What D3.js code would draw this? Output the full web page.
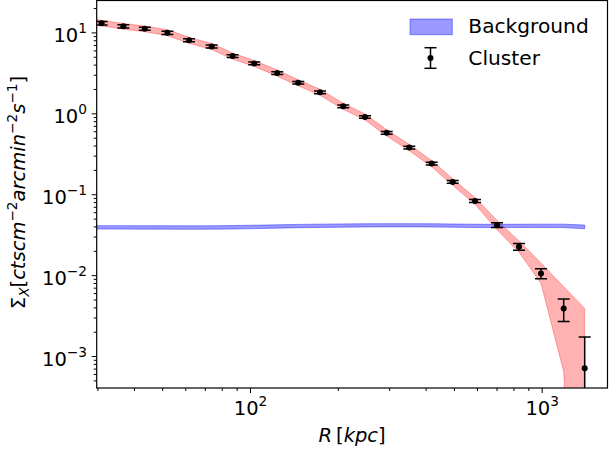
<!DOCTYPE html>
<html>
<head>
<meta charset="utf-8">
<script src="https://cdn.jsdelivr.net/npm/d3@7"></script>
<style>
  body { margin: 0; background: #fff; }
  text { font-family: "DejaVu Sans", sans-serif; fill: #000; }
</style>
</head>
<body>
<div id="chart"></div>
<script>
// cluster surface brightness profile
const radius = [31.0, 36.8, 43.6, 52.1, 61.8, 73.9, 87.2, 103.4, 124.0, 146.4, 173.8, 208.8,
                247.9, 294.2, 351.7, 419.7, 495.3, 590.6, 702.9, 836.0, 994.5, 1189.7, 1404];
const sx = [13.0, 11.9, 11.1, 9.9, 8.0, 6.7, 5.1, 4.14, 3.14, 2.39, 1.82, 1.22,
            0.90, 0.574, 0.377, 0.239, 0.142, 0.0827, 0.0417, 0.0225, 0.0105, 0.00388, 0.000705];
const sxErr = [0.65, 0.55, 0.5, 0.45, 0.35, 0.28, 0.2, 0.16, 0.12, 0.09, 0.07, 0.045,
               0.033, 0.021, 0.014, 0.009, 0.0055, 0.0035, 0.0028, 0.0022, 0.0015, 0.0012, 0.00102];

// model band (red) and background band (blue)
const bandR = [29.0, 31.0, 36.8, 43.6, 52.1, 61.8, 73.9, 87.2, 103.4, 124.0, 146.4, 173.8, 208.8,
               247.9, 294.2, 351.7, 419.7, 495.3, 590.6, 702.9, 836.0, 994.5, 1189.7, 1404];
const modelLo = [12.4, 12.0, 11.0, 10.2, 9.1, 7.35, 6.15, 4.68, 3.8, 2.88, 2.19, 1.67, 1.12,
                 0.825, 0.525, 0.344, 0.218, 0.129, 0.075, 0.0365, 0.0192, 0.0079, 0.00064, 0];
const modelHi = [14.5, 14.1, 12.9, 12.0, 10.8, 8.7, 7.3, 5.55, 4.5, 3.42, 2.6, 1.98, 1.33,
                 0.98, 0.628, 0.412, 0.261, 0.155, 0.091, 0.0475, 0.0265, 0.0141, 0.0072, 0.00388];
const bgVal = [0.0390, 0.0390, 0.0390, 0.0389, 0.0389, 0.0388, 0.0389, 0.0391, 0.0395, 0.0400, 0.0405,
               0.0408, 0.0411, 0.0413, 0.0414, 0.0414, 0.0413, 0.0410, 0.0407, 0.0406, 0.0407,
               0.0408, 0.0407, 0.0395];
const bgErr = [0.0019, 0.0019, 0.0019, 0.0019, 0.0019, 0.0019, 0.0019, 0.0019, 0.0019, 0.0019, 0.0019,
               0.0019, 0.0019, 0.0019, 0.0019, 0.0019, 0.0019, 0.0019, 0.0019, 0.0019, 0.0019,
               0.0019, 0.0020, 0.0021];

const xMajor = [100, 1000];
const yMajor = [0.001, 0.01, 0.1, 1, 10];
const xMinor = [30, 40, 50, 60, 70, 80, 90, 200, 300, 400, 500, 600, 700, 800, 900];
const yMinor = [5e-4, 6e-4, 7e-4, 8e-4, 9e-4, 2e-3, 3e-3, 4e-3, 5e-3, 6e-3, 7e-3, 8e-3, 9e-3,
                0.02, 0.03, 0.04, 0.05, 0.06, 0.07, 0.08, 0.09, 0.2, 0.3, 0.4, 0.5, 0.6, 0.7, 0.8, 0.9,
                2, 3, 4, 5, 6, 7, 8, 9, 20];

const margin = { top: 0.5, left: 96.7 };
const width = 510.8;
const height = 387.5;

const svg = d3.select("#chart").append("svg")
    .attr("width", 609)
    .attr("height", 455);

const g = svg.append("g")
    .attr("transform", "translate(" + margin.left + "," + margin.top + ")");

const x = d3.scaleLog().domain([29.82, 1681]).range([0, width]);
const y = d3.scaleLog().domain([4.03e-4, 24.8]).range([height, 0]);

g.append("clipPath").attr("id", "clip")
  .append("rect").attr("width", width).attr("height", height);

const plot = g.append("g").attr("clip-path", "url(#clip)");

const safe = v => Math.max(v, 1e-9);

// red model band
const red = bandR.map((r, i) => ({ r, lo: modelLo[i], hi: modelHi[i] }));
plot.append("path")
    .datum(red)
    .attr("d", d3.area().x(d => x(d.r)).y0(d => y(safe(d.lo))).y1(d => y(safe(d.hi))))
    .attr("fill", "#ff0000").attr("fill-opacity", 0.3)
    .attr("stroke", "#ff0000").attr("stroke-opacity", 0.3).attr("stroke-width", 1);

// blue background band
const blue = bandR.map((r, i) => ({ r, lo: bgVal[i] - bgErr[i], hi: bgVal[i] + bgErr[i] }));
plot.append("path")
    .datum(blue)
    .attr("d", d3.area().x(d => x(d.r)).y0(d => y(d.lo)).y1(d => y(d.hi)))
    .attr("fill", "#0000ff").attr("fill-opacity", 0.4)
    .attr("stroke", "#0000ff").attr("stroke-opacity", 0.4).attr("stroke-width", 1);

// cluster error bars
const pts = radius.map((r, i) => ({ r, v: sx[i], e: sxErr[i] }));
const cap = 6;
const eb = plot.selectAll(".eb").data(pts).join("g").attr("class", "eb");
eb.append("line")
    .attr("x1", d => x(d.r)).attr("x2", d => x(d.r))
    .attr("y1", d => y(safe(d.v - d.e))).attr("y2", d => y(d.v + d.e))
    .attr("stroke", "#000").attr("stroke-width", 1.5);
eb.append("line")
    .attr("x1", d => x(d.r) - cap).attr("x2", d => x(d.r) + cap)
    .attr("y1", d => y(d.v + d.e)).attr("y2", d => y(d.v + d.e))
    .attr("stroke", "#000").attr("stroke-width", 1.5);
eb.filter(d => d.v - d.e > 0).append("line")
    .attr("x1", d => x(d.r) - cap).attr("x2", d => x(d.r) + cap)
    .attr("y1", d => y(d.v - d.e)).attr("y2", d => y(d.v - d.e))
    .attr("stroke", "#000").attr("stroke-width", 1.5);
eb.append("circle")
    .attr("cx", d => x(d.r)).attr("cy", d => y(d.v)).attr("r", 3)
    .attr("fill", "#000");

// axes
function powLabel(sel, e) {
  sel.append("tspan").text("10");
  sel.append("tspan").attr("dy", -9.3).attr("font-size", "13.7px")
     .text(e < 0 ? "\u2212" + (-e) : String(e));
}

const xAx = g.append("g").attr("transform", "translate(0," + height + ")")
    .call(d3.axisBottom(x).tickValues(xMajor).tickSize(5).tickSizeOuter(0).tickFormat(""));
g.append("g").attr("transform", "translate(0," + height + ")")
    .call(d3.axisBottom(x).tickValues(xMinor).tickSize(3).tickSizeOuter(0).tickFormat(""))
    .call(a => a.select(".domain").remove());
xAx.select(".domain").remove();
xAx.selectAll(".tick text").remove();
xAx.selectAll(".tick").append("text")
    .attr("text-anchor", "middle").attr("y", 27).attr("x", 0)
    .style("font-size", "19.5px")
    .each(function (d) { powLabel(d3.select(this), Math.round(Math.log10(d))); });

const yAx = g.append("g")
    .call(d3.axisLeft(y).tickValues(yMajor).tickSize(5).tickSizeOuter(0).tickFormat(""));
g.append("g")
    .call(d3.axisLeft(y).tickValues(yMinor).tickSize(3).tickSizeOuter(0).tickFormat(""))
    .call(a => a.select(".domain").remove());
yAx.select(".domain").remove();
yAx.selectAll(".tick text").remove();
yAx.selectAll(".tick").append("text")
    .attr("text-anchor", "end").attr("x", -9.7).attr("y", 9.5)
    .style("font-size", "19.5px")
    .each(function (d) { powLabel(d3.select(this), Math.round(Math.log10(d))); });

g.selectAll(".tick line").attr("stroke", "#000").attr("stroke-width", 1);

// frame
g.append("rect")
    .attr("width", width).attr("height", height)
    .attr("fill", "none").attr("stroke", "#000").attr("stroke-width", 1.2);

// axis titles
const xt = svg.append("text")
    .attr("x", margin.left + width / 2).attr("y", 442)
    .attr("text-anchor", "middle").style("font-size", "19.5px");
xt.append("tspan").style("font-style", "italic").text("R");
xt.append("tspan").text("\u2009[");
xt.append("tspan").style("font-style", "italic").text("kpc");
xt.append("tspan").text("]");

const yt = svg.append("text")
    .attr("transform", "translate(25,192.5) rotate(-90)")
    .attr("text-anchor", "middle").style("font-size", "19.5px");
yt.append("tspan").text("\u03A3");
yt.append("tspan").style("font-style", "italic").style("font-size", "13.7px").attr("dy", 4).text("X");
yt.append("tspan").attr("dy", -4).text("[");
yt.append("tspan").style("font-style", "italic").text("ctscm");
yt.append("tspan").style("font-size", "13.7px").attr("dy", -8).text("\u22122");
yt.append("tspan").style("font-style", "italic").attr("dy", 8).text("arcmin");
yt.append("tspan").style("font-size", "13.7px").attr("dy", -8).text("\u22122");
yt.append("tspan").style("font-style", "italic").attr("dy", 8).text("s");
yt.append("tspan").style("font-size", "13.7px").attr("dy", -8).text("\u22121");
yt.append("tspan").attr("dy", 8).text("]");

// legend
const lg = svg.append("g");
lg.append("rect")
    .attr("x", 410).attr("y", 19).attr("width", 42.3).attr("height", 15.7)
    .attr("fill", "#0000ff").attr("fill-opacity", 0.4)
    .attr("stroke", "#0000ff").attr("stroke-opacity", 0.4);
lg.append("text").attr("x", 468.3).attr("y", 32.7).style("font-size", "20.2px").text("Background");
lg.append("line").attr("x1", 430.5).attr("x2", 430.5).attr("y1", 47.7).attr("y2", 68.3)
    .attr("stroke", "#000").attr("stroke-width", 1.5);
lg.append("line").attr("x1", 424.5).attr("x2", 436.5).attr("y1", 47.7).attr("y2", 47.7)
    .attr("stroke", "#000").attr("stroke-width", 1.5);
lg.append("line").attr("x1", 424.5).attr("x2", 436.5).attr("y1", 68.3).attr("y2", 68.3)
    .attr("stroke", "#000").attr("stroke-width", 1.5);
lg.append("circle").attr("cx", 430.5).attr("cy", 58).attr("r", 3).attr("fill", "#000");
lg.append("text").attr("x", 468.3).attr("y", 64.5).style("font-size", "20.2px").text("Cluster");
</script>
</body>
</html>
